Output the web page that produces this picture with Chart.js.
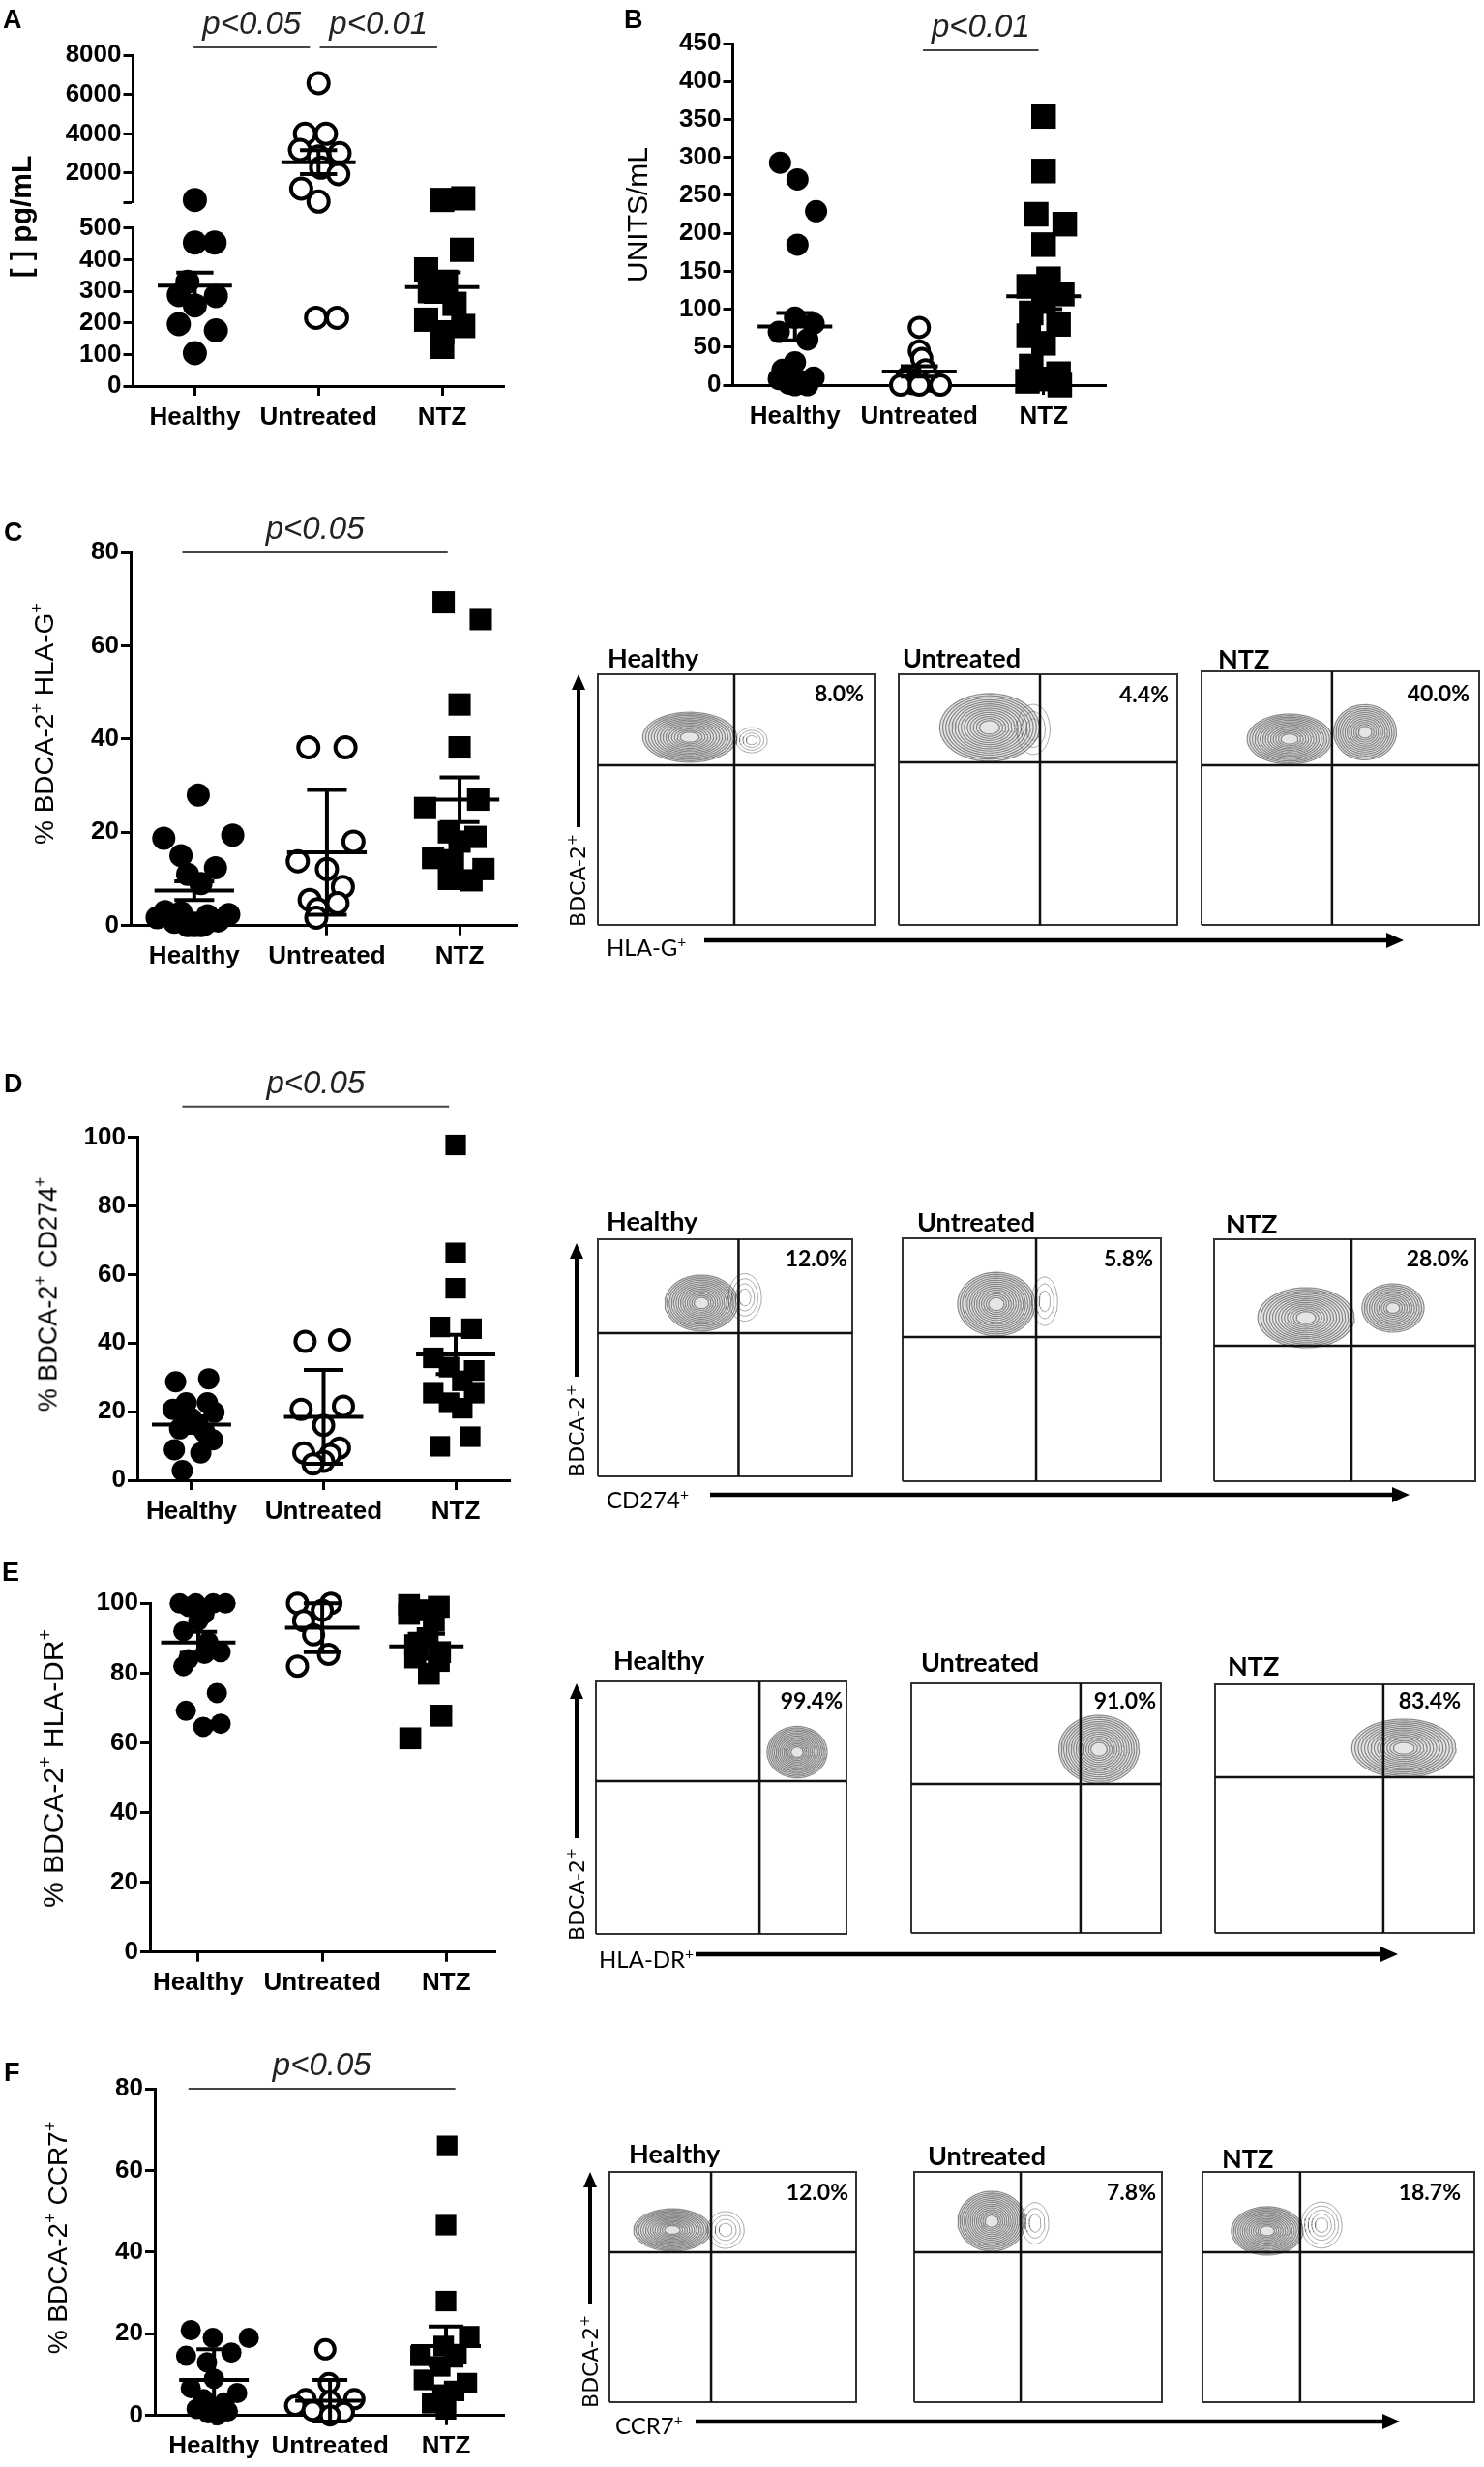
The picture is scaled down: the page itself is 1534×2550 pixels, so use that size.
<!DOCTYPE html>
<html>
<head>
<meta charset="utf-8">
<title>pDC markers</title>
<script src="https://cdn.jsdelivr.net/npm/chart.js@4.4.1/dist/chart.umd.min.js"></script>
<style>
  body { margin: 0; background: #fff; }
  #page { position: relative; width: 1534px; height: 2550px; overflow: hidden; background: #fff; }
  canvas { position: absolute; }
  .t { position: absolute; white-space: nowrap; color: #000; line-height: 1; }
  .letter { font: bold 27px "Liberation Sans", Arial, sans-serif; }
  .ylab { font-family: "Liberation Sans", Arial, sans-serif; transform: translate(-50%, -50%) rotate(-90deg); }
  .ftitle { font: bold 27px Lato, sans-serif; }
  .pct { font: bold 23px Lato, sans-serif; }
  .bdca { font: 22px "DejaVu Sans", sans-serif; transform: translate(-50%, -50%) rotate(-90deg); }
  .xl { font: 24px Lato, sans-serif; }
  sup { font-size: 65%; vertical-align: 0.6em; line-height: 0; }
  svg { position: absolute; left: 0; top: 0; }
</style>
</head>
<body>
<div id="page"></div>
<script>
// ---- data ----
const groups = ['Healthy', 'Untreated', 'NTZ'];

// A: IFN-alpha, pg/mL (broken axis)
const healthyA = [636, 454, 454, 330, 288, 285, 255, 196, 176, 104];
const untreatedA = [6587, 4006, 4006, 3184, 3019, 2855, 2280, 1950, 1210, 553, 216, 216];
const ntzA = [718, 636, 431, 369, 330, 300, 260, 210, 190, 170, 124];
const meanA = [318, 2559, 313];
const semA = [41, 615, 47];
const ticksAlow = [0, 100, 200, 300, 400, 500];
const ticksAup = [520, 2000, 4000, 6000, 8000];

// B: UNITS/mL
const healthyB = [293, 271, 229, 185, 89, 81, 70, 60, 30, 20, 10, 8, 5, 2, 0, 0];
const untreatedB = [76, 45, 35, 20, 10, 5, 2, 0, 0, 0];
const ntzB = [354, 282, 225, 212, 185, 140, 130, 120, 110, 95, 80, 65, 55, 25, 15, 8, 5, 0];
const meanB = [77, 18, 117];
const semB = [18, 7, 17];
const ticksB = [0, 50, 100, 150, 200, 250, 300, 350, 400, 450];

// C: % BDCA-2+ HLA-G+
const healthyC = [28, 19.4, 18.7, 15, 12.4, 11, 9, 3, 2.8, 2.4, 2.1, 1.7, 1, 0.7, 0.5, 0.3, 0, 0, 0];
const untreatedC = [38.2, 38.2, 18, 13.8, 12.1, 8.3, 5.5, 4.8, 3.5, 1.7];
const ntzC = [69.3, 65.7, 47.4, 38.2, 27, 25.2, 20, 19, 18, 14.5, 14, 12.1, 10, 9.7];
const meanC = [7.5, 15.7, 27];
const semC = [2, 13.4, 4.8];

// D: % BDCA-2+ CD274+
const healthyD = [29.6, 28.7, 22.6, 22.6, 20.7, 19.8, 18, 16, 15, 14, 11.8, 8.9, 8, 2.8];
const untreatedD = [40.9, 40.5, 21.6, 20.7, 16, 9.4, 8, 7.5, 5.5, 4.7];
const ntzD = [97.8, 66.3, 56, 44.7, 44.2, 35.7, 33, 32, 29, 25.4, 25.4, 22.6, 21, 12.7, 9.9];
const meanD = [16.2, 18.5, 36.7];
const semD = [2.4, 13.7, 5.7];

// E: % BDCA-2+ HLA-DR+
const healthyE = [100, 100, 100, 100, 99, 97, 95, 92, 89, 86, 85.5, 84, 82, 74.3, 69.2, 65.5, 64.6];
const untreatedE = [100, 100, 98, 95, 91, 85.4, 82];
const ntzE = [99.5, 99, 98, 97, 95, 90, 88, 86, 84.5, 83.5, 79.8, 67.8, 61.3];
const meanE = [88.8, 93, 87.7];
const semE = [3, 7, 3.6];

// F: % BDCA-2+ CCR7+
const healthyF = [20.9, 19, 19, 15.4, 14.6, 13, 9, 6.7, 5.5, 4, 3.2, 1.6, 1, 0.5, 0];
const untreatedF = [16.2, 7.9, 4, 4, 3.6, 2.4, 1.2, 0.8, 0];
const ntzF = [66, 46.6, 28, 19.4, 17, 15, 14.6, 12, 8.7, 7.9, 6, 5.1, 3, 1.5];
const meanF = [8.7, 3.6, 17];
const semF = [7.5, 5.1, 4.8];

const ticks80 = [0, 20, 40, 60, 80];
const ticks100 = [0, 20, 40, 60, 80, 100];

// horizontal scatter of the dots inside each column (category units)
const healthyAJit = [0, 0, 0.16, -0.06, -0.13, 0.17, 0, -0.13, 0.17, 0];
const untreatedAJit = [0, -0.11, 0.06, -0.15, 0.17, 0, 0.02, 0.16, -0.14, 0, -0.02, 0.15];
const ntzAJit = [0.17, 0, 0.16, -0.13, 0.03, -0.1, 0.1, -0.13, 0.17, 0, 0];
const healthyBJit = [-0.12, 0.02, 0.17, 0.02, 0, 0.15, -0.13, 0.1, 0, -0.1, 0.15, -0.13, 0.05, -0.05, 0, 0.1];
const untreatedBJit = [0, 0, 0.02, 0.05, -0.1, 0.1, -0.05, -0.15, 0.17, 0];
const ntzBJit = [0, 0, -0.06, 0.17, 0, 0.04, -0.12, 0.15, 0, -0.1, 0.12, -0.12, 0, -0.1, 0.12, 0, -0.13, 0.13];
const healthyCJit = [0.03, 0.29, -0.23, -0.1, 0.16, -0.05, 0.05, -0.22, -0.1, 0.26, 0.1, -0.28, 0.18, -0.15, 0, 0.08, -0.05, 0.05, 0];
const untreatedCJit = [-0.14, 0.14, 0.2, -0.22, 0, 0.12, -0.13, 0.08, -0.07, -0.08];
const ntzCJit = [-0.12, 0.16, 0, 0, 0.14, -0.26, -0.08, 0.12, 0, -0.2, -0.05, 0.18, -0.08, 0.09];
const healthyDJit = [0.13, -0.12, -0.04, 0.12, -0.14, 0.17, 0, 0.05, -0.09, 0.1, 0.16, -0.13, 0.07, -0.07];
const untreatedDJit = [0.12, -0.14, 0.15, -0.17, 0, 0.12, -0.15, 0.05, 0, -0.08];
const ntzDJit = [0, 0, 0, -0.12, 0.12, -0.17, -0.05, 0.14, 0.05, -0.17, 0.14, -0.05, 0.05, 0.11, -0.12];
const healthyEJit = [-0.15, -0.02, 0.12, 0.22, -0.08, 0.05, 0, -0.12, 0.08, 0.18, 0.05, -0.08, -0.12, 0.15, -0.1, 0.18, 0.04];
const untreatedEJit = [-0.2, 0.07, 0, -0.15, -0.07, 0.05, -0.2];
const ntzEJit = [-0.3, -0.06, -0.18, -0.3, -0.1, -0.15, -0.25, -0.05, -0.25, -0.06, -0.14, -0.04, -0.29];
const healthyFJit = [-0.2, -0.01, 0.3, 0.15, -0.24, -0.06, 0, -0.2, 0.2, -0.09, 0.09, -0.15, 0.12, -0.05, 0.03];
const untreatedFJit = [-0.04, -0.01, -0.21, 0.21, 0, -0.3, -0.15, 0.12, 0];
const ntzFJit = [0.01, 0, 0, 0.2, -0.02, 0.09, -0.22, -0.05, -0.19, 0.18, 0.07, -0.03, -0.12, 0];
// centre shift of the mean/SEM bars (category units)
const errShiftE = [0, 0, -0.16];

// flow plots: gate position [x, y] and populations [cx, cy, rx, ry, rings] in % of plot
const flowPctC = ['8.0%', '4.4%', '40.0%'];
const flowPctD = ['12.0%', '5.8%', '28.0%'];
const flowPctE = ['99.4%', '91.0%', '83.4%'];
const flowPctF = ['12.0%', '7.8%', '18.7%'];
const flowGateC = [[49.3, 63.7], [50.7, 64.9], [47.0, 63.0]];
const flowGateD = [[55.3, 60.4], [51.7, 59.4], [52.6, 56.0]];
const flowGateE = [[65.3, 60.5], [67.8, 59.7], [64.9, 62.6]];
const flowGateF = [[41.2, 65.1], [43.0, 65.1], [35.9, 65.1]];
const flowBlobC = [
  [[33.2, 74.9, 17.0, 10.0, 14], [55.6, 73.7, 5.6, 5.0, 4]],
  [[32.6, 78.8, 17.9, 13.5, 14], [48.3, 78.0, 6, 10, 3]],
  [[31.7, 73.3, 15.3, 9.9, 14], [58.9, 76.0, 11.3, 10.9, 12]]
];
const flowBlobD = [
  [[40.7, 73.1, 14.4, 11.8, 14], [57.8, 75.5, 6.5, 10, 4]],
  [[36.3, 72.9, 15, 13.1, 14], [55, 74.1, 5, 10, 3]],
  [[35.2, 67.6, 18.5, 12.4, 14], [68.5, 71.6, 11.9, 10, 11]]
];
const flowBlobE = [
  [[80.3, 72.0, 12, 10.2, 14]],
  [[75.2, 73.6, 16.1, 13.6, 14]],
  [[72.8, 74.3, 20.1, 11.7, 14]]
];
const flowBlobF = [
  [[25.5, 74.8, 15.7, 9.2, 14], [47.1, 74.8, 7.5, 8, 4]],
  [[31.3, 78.6, 13.7, 13, 14], [48.8, 77.7, 5.5, 9, 3]],
  [[23.8, 74.4, 13.2, 10.5, 14], [43.8, 76.9, 7.5, 10, 5]]
];

// ---- drawing ----
const page = document.getElementById('page');
const tickFont = { family: '"Liberation Sans", Arial, sans-serif', size: 26, weight: 'bold' };

function addText(html, cls, css) {
  const d = document.createElement('div');
  d.className = 't ' + cls;
  d.innerHTML = html;
  Object.assign(d.style, css);
  page.appendChild(d);
  return d;
}

const sigPlugin = {
  id: 'sig',
  afterDatasetsDraw(chart, args, opts) {
    const bars = (opts && opts.bars) || [];
    const ctx = chart.ctx, xs = chart.scales.x, ys = chart.scales.y;
    ctx.save();
    bars.forEach(b => {
      const x1 = xs.getPixelForValue(b.from), x2 = xs.getPixelForValue(b.to), y = ys.getPixelForValue(b.at);
      ctx.strokeStyle = '#444';
      ctx.lineWidth = 2;
      ctx.beginPath();
      ctx.moveTo(x1, y);
      ctx.lineTo(x2, y);
      ctx.stroke();
      ctx.fillStyle = '#222';
      ctx.font = 'italic 33px "Liberation Sans", Arial, sans-serif';
      ctx.textAlign = 'center';
      ctx.textBaseline = 'alphabetic';
      ctx.fillText(b.text, (x1 + x2) / 2, y - 14);
    });
    ctx.restore();
  }
};

function markerSet(vals, jit, cat, kind, r, keep) {
  const data = [];
  vals.forEach((v, i) => { if (!keep || keep(v)) data.push({ x: cat + jit[i], y: v }); });
  const ds = { data, showLine: false, pointRadius: r, pointHoverRadius: r, clip: false };
  if (kind === 'open') {
    return Object.assign(ds, { pointStyle: 'circle', pointBackgroundColor: '#fff', pointBorderColor: '#000', pointBorderWidth: 4 });
  }
  return Object.assign(ds, { pointStyle: kind === 'square' ? 'rect' : 'circle', pointBackgroundColor: '#000', pointBorderColor: '#000', pointBorderWidth: 0 });
}

function seg(points, w) {
  return { data: points, showLine: true, pointRadius: 0, borderColor: '#000', borderWidth: w || 4, clip: false };
}

function errorSets(means, sems, which, shift) {
  const sets = [];
  means.forEach((m, i) => {
    if (which && !which.includes(i)) return;
    const c = i + 1 + (shift ? shift[i] : 0), e = sems[i], half = 0.3, cap = 0.15;
    sets.push(seg([{ x: c - half, y: m }, { x: c + half, y: m }]));
    sets.push(seg([{ x: c, y: m - e }, { x: c, y: m + e }]));
    sets.push(seg([{ x: c - cap, y: m + e }, { x: c + cap, y: m + e }]));
    sets.push(seg([{ x: c - cap, y: m - e }, { x: c + cap, y: m - e }]));
  });
  return sets;
}

function scatterPanel(p) {
  const cv = document.createElement('canvas');
  cv.width = p.box[2];
  cv.height = p.box[3];
  cv.style.left = p.box[0] + 'px';
  cv.style.top = p.box[1] + 'px';
  page.appendChild(cv);
  const showX = p.showX !== false;
  const yw = p.axis.x - p.box[0];
  const xh = showX ? (p.xh || 55) : 0;
  new Chart(cv, {
    type: 'scatter',
    data: { datasets: p.datasets },
    options: {
      responsive: false,
      animation: false,
      events: [],
      layout: { padding: { left: 0, top: p.axis.top - p.box[1], right: p.box[0] + p.box[2] - p.axis.right, bottom: p.box[1] + p.box[3] - p.axis.bottom - xh } },
      plugins: { legend: { display: false }, tooltip: { enabled: false }, sig: { bars: p.sig || [] } },
      scales: {
        x: {
          type: 'linear', min: p.xr[0], max: p.xr[1], display: showX,
          afterFit: s => { s.height = xh; },
          afterBuildTicks: s => { s.ticks = [1, 2, 3].map(v => ({ value: v })); },
          ticks: { font: tickFont, color: '#000', padding: 7, autoSkip: false, maxRotation: 0, callback: v => groups[v - 1] },
          grid: { drawOnChartArea: false, tickLength: 10, tickWidth: 3, tickColor: '#000' },
          border: { color: '#000', width: 3 }
        },
        y: {
          type: 'linear', min: p.y.min, max: p.y.max,
          afterFit: s => { s.width = yw; },
          afterBuildTicks: s => { s.ticks = p.y.ticks.map(v => ({ value: v })); },
          ticks: { font: tickFont, color: '#000', padding: 2, autoSkip: false, callback: v => (p.y.blank || []).includes(v) ? '' : String(v) },
          grid: { drawOnChartArea: false, tickLength: 10, tickWidth: 3, tickColor: '#000' },
          border: { color: '#000', width: 3 }
        }
      }
    },
    plugins: [sigPlugin]
  });
}

function columnSets(h, hj, u, uj, n, nj, sz, keep) {
  return [
    markerSet(u, uj, 2, 'open', sz[1], keep),
    markerSet(n, nj, 3, 'square', sz[2], keep),
    markerSet(h, hj, 1, 'filled', sz[0], keep)
  ];
}

// Panel A, upper segment (break above 500)
const szA = [12.5, 10.5, 17.7];
scatterPanel({
  box: [0, 0, 560, 240], axis: { x: 137.5, top: 57.3, bottom: 209, right: 521 }, xr: [0.5, 3.5], showX: false,
  y: { min: 520, max: 8000, ticks: ticksAup, blank: [520] },
  datasets: errorSets(meanA, semA, [1]).concat(columnSets(healthyA, healthyAJit, untreatedA, untreatedAJit, ntzA, ntzAJit, szA, v => v > 500)),
  sig: [{ from: 0.99, to: 1.93, at: 8410, text: 'p<0.05' }, { from: 2.01, to: 2.96, at: 8410, text: 'p<0.01' }]
});
// Panel A, lower segment
scatterPanel({
  box: [0, 160, 560, 300], axis: { x: 137.5, top: 235.7, bottom: 399, right: 521 }, xr: [0.5, 3.5],
  y: { min: 0, max: 500, ticks: ticksAlow },
  datasets: errorSets(meanA, semA, [0, 2]).concat(columnSets(healthyA, healthyAJit, untreatedA, untreatedAJit, ntzA, ntzAJit, szA, v => v <= 500))
});
// Panel B
scatterPanel({
  box: [620, 0, 560, 460], axis: { x: 757.5, top: 45, bottom: 398, right: 1143 }, xr: [0.5, 3.5],
  y: { min: 0, max: 450, ticks: ticksB },
  datasets: errorSets(meanB, semB).concat(columnSets(healthyB, healthyBJit, untreatedB, untreatedBJit, ntzB, ntzBJit, [11.5, 10, 18])),
  sig: [{ from: 2.03, to: 2.96, at: 441, text: 'p<0.01' }]
});
// Panel C
scatterPanel({
  box: [0, 520, 560, 500], axis: { x: 135, top: 571, bottom: 956.7, right: 534 }, xr: [0.52, 3.43],
  y: { min: 0, max: 80, ticks: ticks80 },
  datasets: errorSets(meanC, semC).concat(columnSets(healthyC, healthyCJit, untreatedC, untreatedCJit, ntzC, ntzCJit, [12, 10.5, 16.3])),
  sig: [{ from: 0.91, to: 2.91, at: 80, text: 'p<0.05' }]
});
// Panel D
scatterPanel({
  box: [0, 1090, 560, 500], axis: { x: 142, top: 1175.7, bottom: 1530, right: 527 }, xr: [0.59, 3.41],
  y: { min: 0, max: 100, ticks: ticks100 },
  datasets: errorSets(meanD, semD).concat(columnSets(healthyD, healthyDJit, untreatedD, untreatedDJit, ntzD, ntzDJit, [11, 10, 15])),
  sig: [{ from: 0.93, to: 2.95, at: 109, text: 'p<0.05' }]
});
// Panel E
scatterPanel({
  box: [0, 1620, 560, 460], axis: { x: 155, top: 1657.3, bottom: 2017.7, right: 512.5 }, xr: [0.61, 3.4],
  y: { min: 0, max: 100, ticks: ticks100 },
  datasets: errorSets(meanE, semE, null, errShiftE).concat(columnSets(healthyE, healthyEJit, untreatedE, untreatedEJit, ntzE, ntzEJit, [10.5, 10, 16]))
});
// Panel F
scatterPanel({
  box: [0, 2100, 560, 450], axis: { x: 160, top: 2159, bottom: 2496.7, right: 521 }, xr: [0.49, 3.5], xh: 50,
  y: { min: 0, max: 80, ticks: ticks80 },
  datasets: errorSets(meanF, semF).concat(columnSets(healthyF, healthyFJit, untreatedF, untreatedFJit, ntzF, ntzFJit, [10.5, 9.5, 15])),
  sig: [{ from: 0.78, to: 3.08, at: 80, text: 'p<0.05' }]
});

// panel letters and y titles
[['A', 3, 4.5], ['B', 645, 4.5], ['C', 4, 534.5], ['D', 4, 1104.5], ['E', 2, 1609.5], ['F', 4, 2126.5]]
  .forEach(([s, x, y]) => addText(s, 'letter', { left: x + 'px', top: y + 'px' }));
addText('[ ] pg/mL', 'ylab', { left: '22px', top: '224px', fontSize: '30px', fontWeight: 'bold' });
addText('UNITS/mL', 'ylab', { left: '659px', top: '222px', fontSize: '30px' });
addText('% BDCA-2<sup>+</sup> HLA-G<sup>+</sup>', 'ylab', { left: '46px', top: '748px', fontSize: '28px' });
addText('% BDCA-2<sup>+</sup> CD274<sup>+</sup>', 'ylab', { left: '50px', top: '1338px', fontSize: '27px' });
addText('% BDCA-2<sup>+</sup> HLA-DR<sup>+</sup>', 'ylab', { left: '55px', top: '1828px', fontSize: '30px' });
addText('% BDCA-2<sup>+</sup> CCR7<sup>+</sup>', 'ylab', { left: '60px', top: '2313px', fontSize: '28px' });

// ---- flow cytometry contour plots ----
function blobRings(b) {
  const [cx, cy, rx, ry, n] = b;
  const dense = n > 6;
  const sets = [];
  for (let k = 1; k <= n; k++) {
    const s = 0.14 + 0.86 * k / n;
    const pts = [];
    for (let a = 0; a <= 360; a += 8) {
      const t = a * Math.PI / 180;
      pts.push({ x: cx + rx * s * Math.cos(t), y: cy + ry * s * Math.sin(t) });
    }
    const ds = { data: pts, showLine: true, pointRadius: 0, borderWidth: dense ? 1.2 : 1, clip: false,
      borderColor: dense ? 'rgba(70,70,70,0.6)' : 'rgba(100,100,100,0.55)' };
    if (dense && k === n) Object.assign(ds, { fill: 'shape', backgroundColor: 'rgba(170,170,170,0.3)' });
    sets.push(ds);
  }
  return sets;
}

function flowChart(rect, gate, blobs) {
  const m = 4;
  const cv = document.createElement('canvas');
  cv.width = rect[2] - rect[0] + 2 * m;
  cv.height = rect[3] - rect[1] + 2 * m;
  cv.style.left = (rect[0] - m) + 'px';
  cv.style.top = (rect[1] - m) + 'px';
  page.appendChild(cv);
  const lines = [
    { data: [{ x: gate[0], y: 0 }, { x: gate[0], y: 100 }], showLine: true, pointRadius: 0, borderColor: '#111', borderWidth: 2.5, clip: false },
    { data: [{ x: 0, y: gate[1] }, { x: 100, y: gate[1] }], showLine: true, pointRadius: 0, borderColor: '#111', borderWidth: 2.5, clip: false },
    { data: [{ x: 0, y: 0 }, { x: 100, y: 0 }, { x: 100, y: 100 }, { x: 0, y: 100 }, { x: 0, y: 0 }], showLine: true, pointRadius: 0, borderColor: '#333', borderWidth: 2, clip: false }
  ];
  let rings = [];
  blobs.forEach(b => { rings = rings.concat(blobRings(b)); });
  new Chart(cv, {
    type: 'scatter',
    data: { datasets: lines.concat(rings) },
    options: {
      responsive: false, animation: false, events: [],
      layout: { padding: m },
      plugins: { legend: { display: false }, tooltip: { enabled: false } },
      scales: { x: { type: 'linear', min: 0, max: 100, display: false }, y: { type: 'linear', min: 0, max: 100, display: false } }
    }
  });
}

const flowLayout = [
  { boxes: [[618, 697, 904, 956], [929, 697, 1217, 956], [1242, 694, 1529, 956]],
    titles: [[628, 687], [933, 687], [1259, 688]], pcts: [[893, 722], [1208, 723], [1519, 722]],
    vArrow: [598, 697, 855], vLabel: [597, 910], hArrow: [728, 1451, 972], hLabel: [627, 977] },
  { boxes: [[618, 1281, 881, 1526], [933, 1280, 1200, 1531], [1255, 1281, 1525, 1531]],
    titles: [[627, 1269], [948, 1270], [1267, 1272]], pcts: [[876, 1306], [1192, 1306], [1518, 1306]],
    vArrow: [596, 1285, 1423], vLabel: [596, 1479], hArrow: [734, 1457, 1545], hLabel: [627, 1548] },
  { boxes: [[616, 1738, 875, 1999], [942, 1740, 1200, 1998], [1256, 1741, 1524, 1998]],
    titles: [[634, 1723], [952, 1725], [1269, 1729]], pcts: [[871, 1763], [1195, 1763], [1510, 1763]],
    vArrow: [596, 1740, 1900], vLabel: [596, 1958], hArrow: [719, 1445, 2020], hLabel: [619, 2023] },
  { boxes: [[630, 2245, 885, 2483], [945, 2245, 1201, 2483], [1243, 2245, 1524, 2483]],
    titles: [[650, 2233], [959, 2235], [1263, 2238]], pcts: [[877, 2271], [1195, 2271], [1510, 2271]],
    vArrow: [610, 2245, 2382], vLabel: [610, 2441], hArrow: [719, 1447, 2503], hLabel: [636, 2505] }
];
const flowMarkers = ['HLA-G<sup>+</sup>', 'CD274<sup>+</sup>', 'HLA-DR<sup>+</sup>', 'CCR7<sup>+</sup>'];
const flowPcts = [flowPctC, flowPctD, flowPctE, flowPctF];
const flowGates = [flowGateC, flowGateD, flowGateE, flowGateF];
const flowBlobs = [flowBlobC, flowBlobD, flowBlobE, flowBlobF];

const svgNS = 'http://www.w3.org/2000/svg';
const svg = document.createElementNS(svgNS, 'svg');
svg.setAttribute('width', 1534);
svg.setAttribute('height', 2550);
page.appendChild(svg);
function svgEl(tag, attrs) {
  const e = document.createElementNS(svgNS, tag);
  for (const k in attrs) e.setAttribute(k, attrs[k]);
  svg.appendChild(e);
}

flowLayout.forEach((L, r) => {
  L.boxes.forEach((b, i) => {
    flowChart(b, flowGates[r][i], flowBlobs[r][i]);
    addText(groups[i], 'ftitle', { left: L.titles[i][0] + 'px', top: (L.titles[i][1] - 24) + 'px' });
    addText(flowPcts[r][i], 'pct', { right: (1534 - L.pcts[i][0]) + 'px', top: (L.pcts[i][1] - 20.4) + 'px' });
  });
  const [vx, vt, vb] = L.vArrow;
  svgEl('line', { x1: vx, y1: vt + 14, x2: vx, y2: vb, stroke: '#000', 'stroke-width': 4 });
  svgEl('polygon', { points: `${vx},${vt} ${vx - 7},${vt + 16} ${vx + 7},${vt + 16}`, fill: '#000' });
  const [hx1, hx2, hy] = L.hArrow;
  svgEl('line', { x1: hx1, y1: hy, x2: hx2 - 14, y2: hy, stroke: '#000', 'stroke-width': 4.5 });
  svgEl('polygon', { points: `${hx2},${hy} ${hx2 - 18},${hy - 8} ${hx2 - 18},${hy + 8}`, fill: '#000' });
  addText('BDCA-2<sup>+</sup>', 'bdca', { left: L.vLabel[0] + 'px', top: L.vLabel[1] + 'px' });
  addText(flowMarkers[r], 'xl', { left: L.hLabel[0] + 'px', top: (L.hLabel[1] - 12.6) + 'px' });
});
</script>
</body>
</html>
